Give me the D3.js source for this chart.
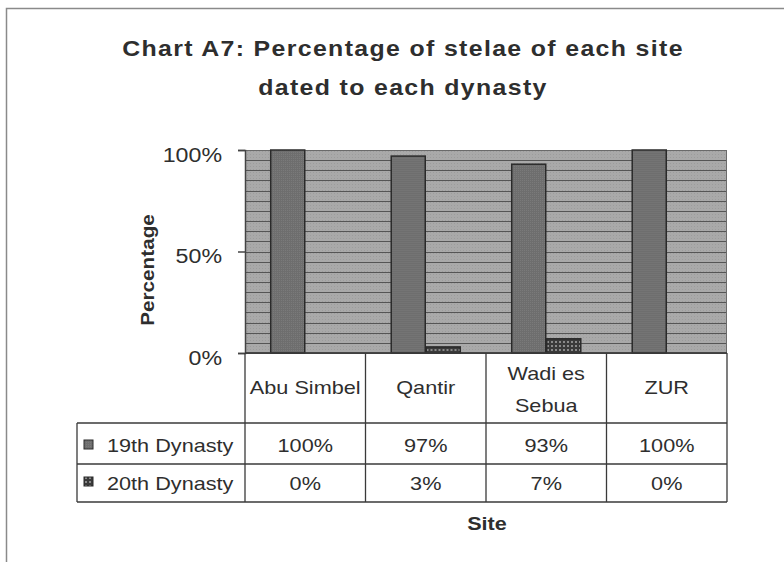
<!DOCTYPE html>
<html><head><meta charset="utf-8">
<script src="https://cdn.jsdelivr.net/npm/d3@7"></script>
<style>body{margin:0;background:#fff}svg{display:block}text{font-family:"Liberation Sans",Arial,sans-serif;fill:#2e2e2e}</style>
</head><body>
<script>
const categories = ["Abu Simbel", "Qantir", "Wadi es Sebua", "ZUR"];
const categoryLines = [["Abu Simbel"], ["Qantir"], ["Wadi es", "Sebua"], ["ZUR"]];
const series = ["19th Dynasty", "20th Dynasty"];
const dyn19 = [1.00, 0.97, 0.93, 1.00];
const dyn20 = [0.00, 0.03, 0.07, 0.00];
const dyn19Labels = ["100%", "97%", "93%", "100%"];
const dyn20Labels = ["0%", "3%", "7%", "0%"];
const yTicks = [0, 0.5, 1];
const gridTicks = d3.range(0, 21).map(i => i * 0.05);
const title = ["Chart A7: Percentage of stelae of each site", "dated to each dynasty"];

const W = 784, H = 562;
const svg = d3.select("body").append("svg").attr("width", W).attr("height", H);
const defs = svg.append("defs");
const pbg = defs.append("pattern").attr("id","bgp").attr("width",3).attr("height",3).attr("patternUnits","userSpaceOnUse");
pbg.append("rect").attr("width",3).attr("height",3).attr("fill","#a9a9a9");
pbg.append("rect").attr("x",1).attr("y",1).attr("width",1).attr("height",1).attr("fill","#9c9c9c");
const p19 = defs.append("pattern").attr("id","p19").attr("width",2).attr("height",2).attr("patternUnits","userSpaceOnUse");
p19.append("rect").attr("width",2).attr("height",2).attr("fill","#6e6e6e");
p19.append("rect").attr("width",1).attr("height",1).attr("fill","#7a7a7a");
const p20 = defs.append("pattern").attr("id","p20").attr("width",4).attr("height",4).attr("patternUnits","userSpaceOnUse");
p20.append("rect").attr("width",4).attr("height",4).attr("fill","#3a3a3a");
p20.append("rect").attr("x",1).attr("y",1).attr("width",2).attr("height",2).attr("fill","#8a8a8a");

// horizontally widen text glyphs (scan looks stretched)
function stretch(sel, k) {
  sel.each(function () {
    const L = this.getComputedTextLength();
    d3.select(this).attr("textLength", (L * k).toFixed(1)).attr("lengthAdjust", "spacingAndGlyphs");
  });
}

// frame
svg.append("path").attr("d","M6.5,562 V8.5 H784").attr("fill","none").attr("stroke","#8a8a8a").attr("stroke-width",1.5);

const x0 = d3.scaleBand().domain(categories).range([245, 727]);
const x1 = d3.scaleBand().domain(series).range([0, x0.bandwidth()]).paddingInner(0).paddingOuter(0.72);
const y = d3.scaleLinear().domain([0, 1]).range([353, 150]);

// title
const tt = svg.append("g").selectAll("text").data(title).join("text")
  .attr("x", 403).attr("y", (d,i) => 56 + i*39).attr("text-anchor","middle")
  .attr("font-size", 22).attr("font-weight","bold").attr("letter-spacing", 1.2).text(d => d);
stretch(tt, 1.13);

// plot bg
svg.append("rect").attr("x", 245).attr("y", y(1)).attr("width", 727-245).attr("height", y(0)-y(1)).attr("fill","url(#bgp)");
svg.append("g").selectAll("line").data(gridTicks).join("line")
  .attr("x1", 245).attr("x2", 727).attr("y1", d => Math.round(y(d))+0.5).attr("y2", d => Math.round(y(d))+0.5)
  .attr("stroke", "#555").attr("stroke-width", 1);
svg.append("rect").attr("x", 245.5).attr("y", y(1)+0.5).attr("width", 727-245-1).attr("height", y(0)-y(1)-1).attr("fill","none").attr("stroke","#6a6a6a");

// bars
const data = categories.map((c,i) => ({c, vals: [dyn19[i], dyn20[i]]}));
const g = svg.append("g").selectAll("g").data(data).join("g").attr("transform", d => `translate(${x0(d.c)},0)`);
g.selectAll("rect").data(d => d.vals.map((v,j) => ({s: series[j], v}))).join("rect")
  .attr("x", d => x1(d.s)+0.5).attr("width", x1.bandwidth()-1)
  .attr("y", d => y(d.v)).attr("height", d => y(0)-y(d.v))
  .attr("fill", d => d.s === series[0] ? "url(#p19)" : "url(#p20)")
  .attr("stroke", "#2a2a2a").attr("stroke-width", 1.5)
  .attr("display", d => d.v > 0 ? null : "none");

// y axis
const yAxis = d3.axisLeft(y).tickValues(yTicks).tickFormat(d3.format(".0%")).tickSize(7).tickPadding(16);
const ya = svg.append("g").attr("transform","translate(245,0)").call(yAxis);
ya.select(".domain").attr("stroke","#444").attr("stroke-width",1.5);
ya.selectAll(".tick line").attr("stroke","#444").attr("stroke-width",1.5);
const ytx = ya.selectAll(".tick text").attr("font-size",20).attr("fill","#333")
  .attr("font-family","'Liberation Sans',Arial,sans-serif").attr("dy","0.55em");
stretch(ytx, 1.16);

const pt = svg.append("text").attr("transform","translate(154,270) rotate(-90)").attr("text-anchor","middle")
  .attr("font-size",18).attr("font-weight","bold").text("Percentage");
stretch(pt, 1.15);

// data table
const tl = 77, tr = 727;
const tg = svg.append("g").attr("stroke","#3a3a3a").attr("stroke-width",1.3).attr("fill","none");
tg.append("line").attr("x1", 245).attr("x2", tr).attr("y1", 353).attr("y2", 353);
[423, 464, 502].forEach(yy => tg.append("line").attr("x1", tl).attr("x2", tr).attr("y1", yy).attr("y2", yy));
const colEdges = categories.map(c => x0(c)).concat([tr]);
colEdges.forEach(xx => tg.append("line").attr("x1", xx).attr("x2", xx).attr("y1", 353).attr("y2", 502));
tg.append("line").attr("x1", tl).attr("x2", tl).attr("y1", 423).attr("y2", 502);

const TF = 19, TK = 1.14;
// headers
const headerItems = categoryLines.flatMap((lines, i) => lines.map((t, j) => ({t, i, j, n: lines.length})));
const ht = svg.append("g").selectAll("text").data(headerItems).join("text")
  .attr("text-anchor","middle").attr("font-size",TF)
  .attr("x", d => x0(categories[d.i]) + x0.bandwidth()/2)
  .attr("y", d => d.n === 1 ? 394 : 380 + d.j*32).text(d => d.t);
stretch(ht, TK);

// values
[dyn19Labels, dyn20Labels].forEach((labels, r) => {
  const vt = svg.append("g").selectAll("text").data(labels).join("text")
    .attr("x", (d,i) => x0(categories[i]) + x0.bandwidth()/2)
    .attr("y", r === 0 ? 452 : 490).attr("text-anchor","middle")
    .attr("font-size",TF).text(d => d);
  stretch(vt, TK);
});
// legend keys
series.forEach((s, r) => {
  const ty = r === 0 ? 440 : 477;
  svg.append("rect").attr("x", 84).attr("y", ty).attr("width", 9).attr("height", 9)
    .attr("fill", r === 0 ? "url(#p19)" : "url(#p20)").attr("stroke","#2a2a2a").attr("stroke-width",1);
  const lt = svg.append("text").attr("x", 107).attr("y", r === 0 ? 452 : 490).attr("font-size",TF).text(s);
  stretch(lt, TK);
});

const st = svg.append("text").attr("x", 487).attr("y", 530).attr("text-anchor","middle").attr("font-size",18)
  .attr("font-weight","bold").text("Site");
stretch(st, 1.2);
</script>
</body></html>
